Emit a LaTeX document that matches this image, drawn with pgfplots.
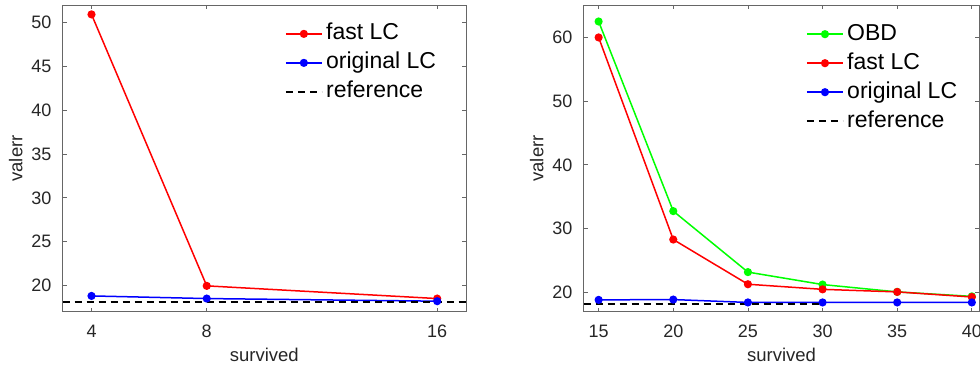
\documentclass[border=0pt]{standalone}
\usepackage{pgfplots}
\pgfplotsset{compat=1.18}
\usepackage{fontspec}
\setmainfont{Liberation Sans}
\definecolor{axgray}{gray}{0.4}
\definecolor{txt}{gray}{0.15}
\pgfplotsset{
 mystyle/.style={
  scale only axis,
  width=403.3pt, height=306.5pt,
  axis line style={axgray, line width=0.8pt},
  tick style={axgray, line width=0.8pt},
  tick align=inside,
  major tick length=4pt,
  every tick label/.append style={inner sep=0pt, font=\fontsize{18}{20}\selectfont, text=txt},
  yticklabel style={xshift=-11pt},
  xticklabel style={yshift=-13pt},
  every axis x label/.style={at={(axis description cs:0.5,0)}, anchor=center, yshift=-42.7pt,
    font=\fontsize{18.5}{21}\selectfont, text=txt, inner sep=0pt},
  every axis y label/.style={at={(axis description cs:0,0.5)}, rotate=90, anchor=center, yshift=47pt,
    font=\fontsize{18.5}{21}\selectfont, text=txt, inner sep=0pt},
  /pgf/number format/assume math mode=true,
  legend cell align=left,
  legend style={draw=none, fill=none, font=\fontsize{23}{26}\selectfont, inner sep=0pt,
    nodes={inner sep=0pt, text depth=5pt, text height=17pt}, row sep=7pt, column sep=3.5pt},
  legend image code/.code={\draw[mark repeat=2, mark phase=2, #1] plot coordinates {(0pt,0pt) (18pt,0pt) (36pt,0pt)};},
  every axis plot/.append style={line width=1.5pt},
 }
}
\begin{document}
\begin{tikzpicture}
\useasboundingbox (-62.7pt,-54.3pt) rectangle (917.3pt,311.7pt);
\begin{axis}[mystyle, at={(0pt,0pt)}, anchor=south west,
  xmin=3, xmax=17, ymin=17, ymax=52,
  xtick={4,8,16}, ytick={20,25,30,35,40,45,50},
  xlabel={survived}, ylabel={valerr},
  legend style={at={(rel axis cs:0.551,0.943)}, anchor=north west}]
\addplot[red, mark=*, mark size=3.3pt] coordinates {(4,50.95) (8,19.95) (16,18.5)};
\addlegendentry{fast LC}
\addplot[blue, mark=*, mark size=3.3pt] coordinates {(4,18.8) (8,18.5) (16,18.2)};
\addlegendentry{original LC}
\addplot[black, dash pattern=on 7pt off 5pt, no marks] coordinates {(3,18.1) (17,18.1)};
\addlegendentry{reference}
\end{axis}
\begin{axis}[mystyle, at={(521pt,0pt)}, anchor=south west, width=395.6pt,
  xmin=14, xmax=40.5, ymin=17, ymax=65,
  xtick={15,20,25,30,35,40}, ytick={20,30,40,50,60},
  xlabel={survived}, ylabel={valerr},
  legend style={at={(rel axis cs:0.562,0.942)}, anchor=north west}]
\addplot[green, mark=*, mark size=3.3pt] coordinates {(15,62.45) (20,32.75) (25,23.2) (30,21.25) (35,20.1) (40,19.4)};
\addlegendentry{OBD}
\addplot[red, mark=*, mark size=3.3pt] coordinates {(15,59.95) (20,28.3) (25,21.3) (30,20.5) (35,20.1) (40,19.3)};
\addlegendentry{fast LC}
\addplot[blue, mark=*, mark size=3.3pt] coordinates {(15,18.85) (20,18.9) (25,18.45) (30,18.45) (35,18.45) (40,18.45)};
\addlegendentry{original LC}
\addplot[black, dash pattern=on 7pt off 5pt, no marks] coordinates {(14,18.2) (30,18.2)};
\addlegendentry{reference}
\end{axis}
\end{tikzpicture}
\end{document}
